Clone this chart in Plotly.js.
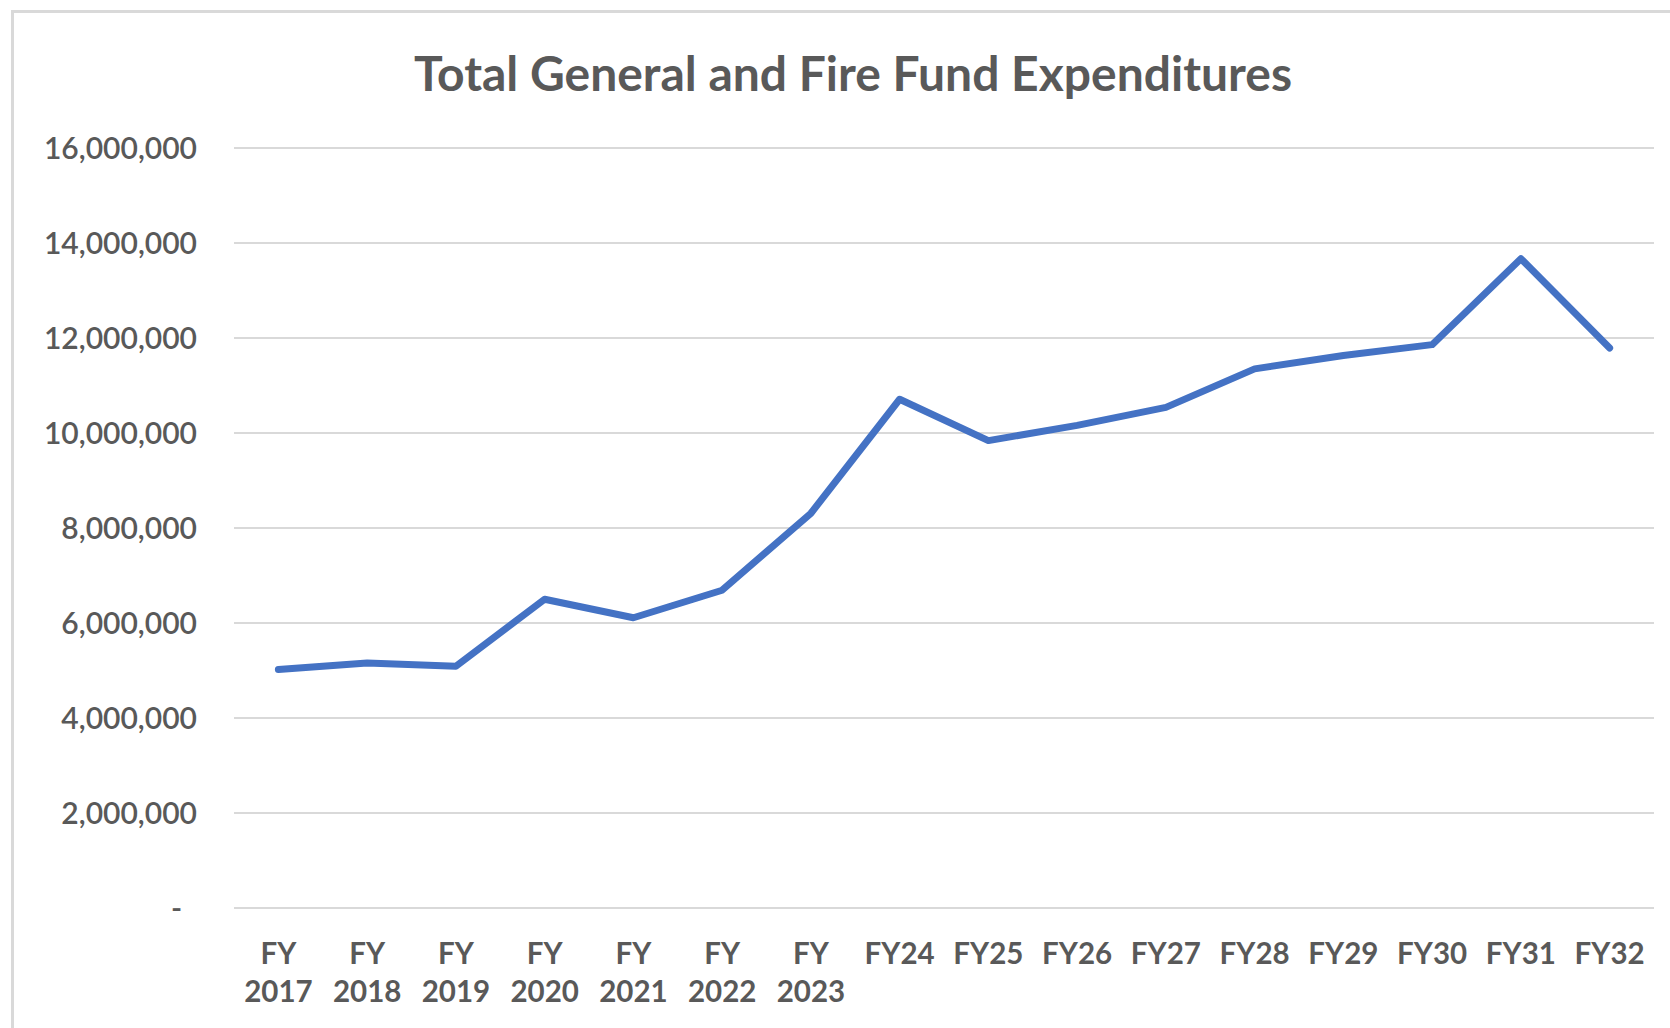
<!DOCTYPE html>
<html>
<head>
<meta charset="utf-8">
<script src="https://cdn.plot.ly/plotly-3.0.1.min.js"></script>
<style>
  html, body { margin: 0; padding: 0; background: #ffffff; }
  #wrap { position: relative; width: 1670px; height: 1028px; overflow: hidden; }
  #chart { position: absolute; left: 0; top: 0; width: 1670px; height: 1028px; }
  #frame { position: absolute; left: 11px; top: 10px; width: 1700px; height: 1100px;
           border-left: 3px solid #d9d9d9; border-top: 3px solid #d9d9d9; pointer-events: none; }
  .scatterlayer path.js-line { stroke-linecap: round; stroke-linejoin: round; }
</style>
</head>
<body>
<div id="wrap">
  <div id="chart"></div>
  <div id="frame"></div>
</div>
<script>
const categories = ["FY<br>2017", "FY<br>2018", "FY<br>2019", "FY<br>2020", "FY<br>2021", "FY<br>2022", "FY<br>2023",
                    "FY24", "FY25", "FY26", "FY27", "FY28", "FY29", "FY30", "FY31", "FY32"];
const expenditures = [5020000, 5160000, 5090000, 6500000, 6110000, 6690000, 8310000,
                      10710000, 9840000, 10160000, 10540000, 11350000, 11630000, 11860000, 13670000, 11790000];
const yTickValues = [0, 2000000, 4000000, 6000000, 8000000, 10000000, 12000000, 14000000, 16000000];
const yTickLabels = ["-\u00a0\u00a0", "2,000,000", "4,000,000", "6,000,000", "8,000,000",
                     "10,000,000", "12,000,000", "14,000,000", "16,000,000"];
const chartTitle = "Total General and Fire Fund Expenditures";

const trace = {
  type: "scatter",
  mode: "lines",
  x: categories.map((c, i) => i),
  y: expenditures,
  line: { color: "#4472C4", width: 7 },
  hoverinfo: "skip"
};

const layout = {
  width: 1670,
  height: 1028,
  paper_bgcolor: "#ffffff",
  plot_bgcolor: "#ffffff",
  showlegend: false,
  margin: { l: 234, r: 16, t: 146, b: 120 },
  font: { family: "Lato, 'Open Sans', sans-serif", color: "#595959" },
  title: {
    text: chartTitle,
    font: { family: "Lato, sans-serif", size: 48, color: "#595959", weight: 700 },
    xref: "container", x: 0.5108, xanchor: "center",
    yref: "container", y: 0.928, yanchor: "middle"
  },
  xaxis: {
    range: [-0.5, 15.5],
    tickmode: "array",
    tickvals: categories.map((c, i) => i),
    ticktext: categories,
    tickfont: { size: 29.5, color: "#595959", weight: 700 },
    ticks: "",
    ticklabelstandoff: 25,
    showgrid: false,
    zeroline: false,
    showline: false,
    fixedrange: true
  },
  yaxis: {
    range: [0, 16042000],
    tickmode: "array",
    tickvals: yTickValues,
    ticktext: yTickLabels,
    tickfont: { size: 30, color: "#595959", weight: 600 },
    ticks: "",
    ticklabelstandoff: 36,
    showgrid: true,
    gridcolor: "#d9d9d9",
    gridwidth: 2.5,
    zeroline: true,
    zerolinecolor: "#d9d9d9",
    zerolinewidth: 2.5,
    showline: false,
    fixedrange: true
  }
};

Plotly.newPlot("chart", [trace], layout, { displayModeBar: false, staticPlot: true });
</script>
</body>
</html>
